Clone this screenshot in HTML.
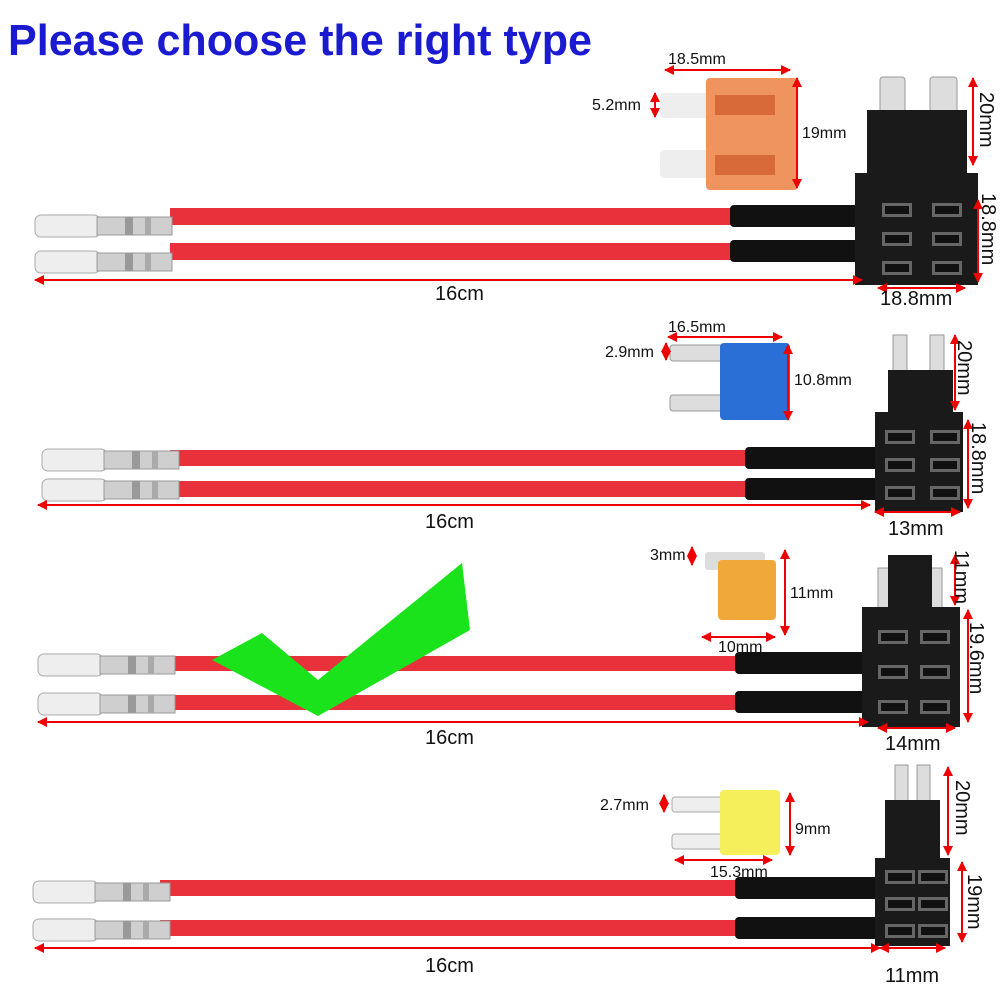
<!DOCTYPE html>
<html><head><meta charset="utf-8"><style>
html,body{margin:0;padding:0;background:#fff;}
svg{display:block;font-family:"Liberation Sans",Arial,sans-serif;}
</style></head><body>
<svg width="1000" height="1000" viewBox="0 0 1000 1000" xmlns="http://www.w3.org/2000/svg">
<defs>
<marker id="a" viewBox="0 0 10 10" refX="9" refY="5" markerWidth="5" markerHeight="5" orient="auto-start-reverse"><path d="M0,0L10,5L0,10z" fill="#e00"/></marker>
<g id="term">
<rect x="0" y="-11" width="65" height="22" rx="6" fill="#eee" stroke="#aaa"/>
<rect x="62" y="-9" width="75" height="18" fill="#cfcfcf" stroke="#999"/>
<rect x="90" y="-9" width="8" height="18" fill="#999"/>
<rect x="110" y="-9" width="6" height="18" fill="#aaa"/>
</g>
<g id="slot"><rect x="0" y="0" width="30" height="14" fill="#666"/><rect x="3" y="3" width="24" height="8" fill="#111"/></g>
</defs>
<text x="8" y="55" font-size="44" font-weight="bold" fill="#1a1ad0" textLength="584" lengthAdjust="spacingAndGlyphs">Please choose the right type</text>

<!-- ROW 1 -->
<rect x="170" y="208" width="570" height="17" fill="#e8313a"/>
<rect x="170" y="243" width="570" height="17" fill="#e8313a"/>
<use href="#term" x="35" y="226"/><use href="#term" x="35" y="262"/>
<rect x="730" y="205" width="140" height="22" rx="4" fill="#111"/>
<rect x="730" y="240" width="140" height="22" rx="4" fill="#111"/>
<rect x="880" y="77" width="25" height="40" rx="3" fill="#ddd" stroke="#999"/>
<rect x="930" y="77" width="27" height="40" rx="3" fill="#ddd" stroke="#999"/>
<rect x="867" y="110" width="100" height="63" fill="#1a1a1a"/>
<rect x="855" y="173" width="123" height="112" fill="#1a1a1a"/>
<use href="#slot" x="882" y="203"/><use href="#slot" x="932" y="203"/>
<use href="#slot" x="882" y="232"/><use href="#slot" x="932" y="232"/>
<use href="#slot" x="882" y="261"/><use href="#slot" x="932" y="261"/>
<rect x="660" y="93" width="50" height="25" rx="4" fill="#eee"/>
<rect x="660" y="150" width="50" height="28" rx="4" fill="#eee"/>
<rect x="706" y="78" width="92" height="112" rx="4" fill="#f0945f"/>
<rect x="715" y="95" width="60" height="20" fill="#d86a3a"/><rect x="715" y="155" width="60" height="20" fill="#d86a3a"/>
<g stroke="#e00" stroke-width="2" marker-start="url(#a)" marker-end="url(#a)">
<line x1="665" y1="70" x2="790" y2="70"/><line x1="655" y1="93" x2="655" y2="117"/>
<line x1="797" y1="78" x2="797" y2="188"/><line x1="973" y1="78" x2="973" y2="165"/>
<line x1="978" y1="200" x2="978" y2="282"/><line x1="878" y1="288" x2="965" y2="288"/>
<line x1="35" y1="280" x2="862" y2="280"/>
</g>
<g font-size="16" fill="#111">
<text x="668" y="64">18.5mm</text><text x="592" y="110">5.2mm</text><text x="802" y="138">19mm</text>
<text x="435" y="300" font-size="20">16cm</text><text x="880" y="305" font-size="20">18.8mm</text>
<text transform="translate(980,92) rotate(90)" font-size="20">20mm</text>
<text transform="translate(982,193) rotate(90)" font-size="20">18.8mm</text>
</g>

<!-- ROW 2 -->
<rect x="170" y="450" width="580" height="16" fill="#e8313a"/>
<rect x="170" y="481" width="580" height="16" fill="#e8313a"/>
<use href="#term" x="42" y="460"/><use href="#term" x="42" y="490"/>
<rect x="745" y="447" width="140" height="22" rx="4" fill="#111"/>
<rect x="745" y="478" width="140" height="22" rx="4" fill="#111"/>
<rect x="893" y="335" width="14" height="40" fill="#ddd" stroke="#999"/>
<rect x="930" y="335" width="14" height="40" fill="#ddd" stroke="#999"/>
<rect x="888" y="370" width="65" height="45" fill="#1a1a1a"/>
<rect x="875" y="412" width="88" height="100" fill="#1a1a1a"/>
<use href="#slot" x="885" y="430"/><use href="#slot" x="930" y="430"/>
<use href="#slot" x="885" y="458"/><use href="#slot" x="930" y="458"/>
<use href="#slot" x="885" y="486"/><use href="#slot" x="930" y="486"/>
<rect x="670" y="345" width="55" height="16" rx="3" fill="#ddd" stroke="#999"/>
<rect x="670" y="395" width="55" height="16" rx="3" fill="#ddd" stroke="#999"/>
<rect x="720" y="343" width="70" height="77" rx="4" fill="#2a6fd6"/>
<g stroke="#e00" stroke-width="2" marker-start="url(#a)" marker-end="url(#a)">
<line x1="668" y1="337" x2="782" y2="337"/><line x1="666" y1="343" x2="666" y2="360"/>
<line x1="788" y1="345" x2="788" y2="420"/><line x1="955" y1="335" x2="955" y2="410"/>
<line x1="968" y1="420" x2="968" y2="508"/><line x1="875" y1="512" x2="960" y2="512"/>
<line x1="38" y1="505" x2="870" y2="505"/>
</g>
<g font-size="16" fill="#111">
<text x="668" y="332">16.5mm</text><text x="605" y="357">2.9mm</text><text x="794" y="385">10.8mm</text>
<text x="425" y="528" font-size="20">16cm</text><text x="888" y="535" font-size="20">13mm</text>
<text transform="translate(958,340) rotate(90)" font-size="20">20mm</text>
<text transform="translate(972,422) rotate(90)" font-size="20">18.8mm</text>
</g>

<!-- ROW 3 -->
<rect x="160" y="656" width="580" height="15" fill="#e8313a"/>
<rect x="160" y="695" width="580" height="15" fill="#e8313a"/>
<use href="#term" x="38" y="665"/><use href="#term" x="38" y="704"/>
<rect x="735" y="652" width="135" height="22" rx="4" fill="#111"/>
<rect x="735" y="691" width="135" height="22" rx="4" fill="#111"/>
<rect x="878" y="568" width="16" height="42" fill="#ddd" stroke="#999"/>
<rect x="926" y="568" width="16" height="42" fill="#ddd" stroke="#999"/>
<rect x="888" y="555" width="44" height="55" fill="#1a1a1a"/>
<rect x="862" y="607" width="98" height="120" fill="#1a1a1a"/>
<use href="#slot" x="878" y="630"/><use href="#slot" x="920" y="630"/>
<use href="#slot" x="878" y="665"/><use href="#slot" x="920" y="665"/>
<use href="#slot" x="878" y="700"/><use href="#slot" x="920" y="700"/>
<rect x="705" y="552" width="60" height="18" rx="3" fill="#ddd"/>
<rect x="718" y="560" width="58" height="60" rx="4" fill="#f0a838"/>
<path d="M212,660 L318,716 L470,630 L462,563 L318,680 L262,633 Z" fill="#1be31b"/>
<g stroke="#e00" stroke-width="2" marker-start="url(#a)" marker-end="url(#a)">
<line x1="692" y1="547" x2="692" y2="565"/><line x1="785" y1="550" x2="785" y2="635"/>
<line x1="702" y1="637" x2="775" y2="637"/><line x1="955" y1="555" x2="955" y2="605"/>
<line x1="968" y1="610" x2="968" y2="722"/><line x1="878" y1="728" x2="955" y2="728"/>
<line x1="38" y1="722" x2="868" y2="722"/>
</g>
<g font-size="16" fill="#111">
<text x="650" y="560">3mm</text><text x="790" y="598">11mm</text><text x="718" y="652">10mm</text>
<text x="425" y="744" font-size="20">16cm</text><text x="885" y="750" font-size="20">14mm</text>
<text transform="translate(955,550) rotate(90)" font-size="20">11mm</text>
<text transform="translate(970,622) rotate(90)" font-size="20">19.6mm</text>
</g>

<!-- ROW 4 -->
<rect x="160" y="880" width="580" height="16" fill="#e8313a"/>
<rect x="160" y="920" width="580" height="16" fill="#e8313a"/>
<use href="#term" x="33" y="892"/><use href="#term" x="33" y="930"/>
<rect x="735" y="877" width="145" height="22" rx="4" fill="#111"/>
<rect x="735" y="917" width="145" height="22" rx="4" fill="#111"/>
<rect x="895" y="765" width="13" height="45" fill="#ddd" stroke="#999"/>
<rect x="917" y="765" width="13" height="45" fill="#ddd" stroke="#999"/>
<rect x="885" y="800" width="55" height="60" fill="#1a1a1a"/>
<rect x="875" y="858" width="75" height="88" fill="#1a1a1a"/>
<use href="#slot" x="885" y="870"/><use href="#slot" x="918" y="870"/>
<use href="#slot" x="885" y="897"/><use href="#slot" x="918" y="897"/>
<use href="#slot" x="885" y="924"/><use href="#slot" x="918" y="924"/>
<rect x="672" y="797" width="55" height="15" rx="3" fill="#eee" stroke="#aaa"/>
<rect x="672" y="834" width="55" height="15" rx="3" fill="#eee" stroke="#aaa"/>
<rect x="720" y="790" width="60" height="65" rx="4" fill="#f4ef5a"/>
<g stroke="#e00" stroke-width="2" marker-start="url(#a)" marker-end="url(#a)">
<line x1="664" y1="795" x2="664" y2="812"/><line x1="790" y1="793" x2="790" y2="855"/>
<line x1="675" y1="860" x2="772" y2="860"/><line x1="948" y1="767" x2="948" y2="855"/>
<line x1="962" y1="862" x2="962" y2="942"/><line x1="880" y1="948" x2="945" y2="948"/>
<line x1="35" y1="948" x2="880" y2="948"/>
</g>
<g font-size="16" fill="#111">
<text x="600" y="810">2.7mm</text><text x="795" y="834">9mm</text><text x="710" y="877">15.3mm</text>
<text x="425" y="972" font-size="20">16cm</text><text x="885" y="982" font-size="20">11mm</text>
<text transform="translate(956,780) rotate(90)" font-size="20">20mm</text>
<text transform="translate(968,874) rotate(90)" font-size="20">19mm</text>
</g>
</svg>
</body></html>
